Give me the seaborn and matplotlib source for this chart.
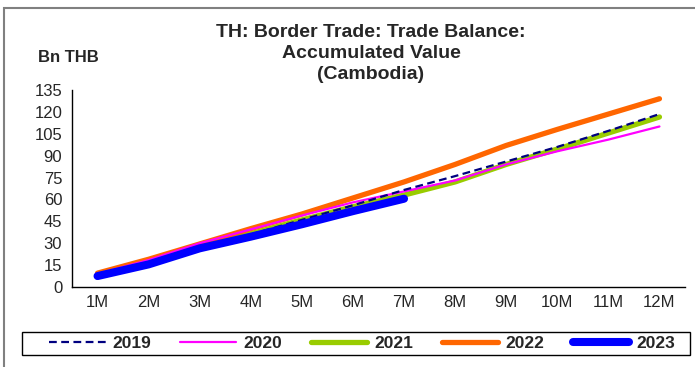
import matplotlib
matplotlib.use('Agg')
import matplotlib.pyplot as plt
import numpy as np
import pandas as pd
import seaborn as sns
from matplotlib.patches import Rectangle

sns.set_style('white')
plt.rcParams['font.family'] = ['Liberation Sans', 'DejaVu Sans']

# data (Bn THB, accumulated)
months = ['1M', '2M', '3M', '4M', '5M', '6M', '7M', '8M', '9M', '10M', '11M', '12M']
y2019 = [8, 17, 27, 36, 46, 56, 66.5, 76, 86, 96, 107, 118.5]
y2020 = [9, 18.5, 30, 39.5, 49, 58, 65.5, 73, 84, 93, 101, 110]
y2021 = [8, 17, 27.5, 36.5, 46, 55, 63, 72, 84, 94.5, 105.5, 116.5]
y2022 = [9.5, 19, 29.5, 40, 50, 61, 72, 84, 97, 108, 118.5, 129]
y2023 = [7.5, 15.5, 26.5, 34.5, 43, 52, 60.5]

series = {'2019': y2019, '2020': y2020, '2021': y2021, '2022': y2022, '2023': y2023}
rows = []
for year, vals in series.items():
    for i, v in enumerate(vals):
        rows.append({'year': year, 'pos': i + 1, 'value': v})
df = pd.DataFrame(rows)

# line styles
styles = {
    '2019': dict(color='#000080', lw=1.6, ls=(0, (3.5, 2)), z=5),
    '2020': dict(color='#FF00FF', lw=1.6, ls='-', z=4),
    '2021': dict(color='#99CC00', lw=3.8, ls='-', z=2),
    '2022': dict(color='#FF6600', lw=3.8, ls='-', z=3),
    '2023': dict(color='#0000FF', lw=5.8, ls='-', z=6),
}

fig = plt.figure(figsize=(6.95, 3.67), dpi=100)
ax = fig.add_axes([72 / 695, 80 / 367, 613 / 695, 197 / 367])

for year in series:
    st = styles[year]
    sns.lineplot(data=df[df['year'] == year], x='pos', y='value', ax=ax,
                 color=st['color'], linewidth=st['lw'], linestyle=st['ls'],
                 zorder=st['z'], label=year, legend=False,
                 solid_capstyle='round', dash_capstyle='butt')

ax.set_xlim(0.5, 12.5)
ax.set_ylim(0, 135)
ax.set_yticks(np.arange(0, 136, 15))
ax.set_xticks(np.arange(0.5, 12.6, 1))
ax.set_xticklabels([])
ax.set_xticks(np.arange(1, 13), minor=True)
ax.set_xticklabels(months, minor=True)
ax.tick_params(axis='x', which='major', direction='out', length=5, width=1, color='black')
ax.tick_params(axis='x', which='minor', length=0, pad=6, labelsize=12)
ax.tick_params(axis='y', direction='out', length=5, width=1, color='black', pad=2, labelsize=12)
ax.set_xlabel('')
ax.set_ylabel('')
for s in ['top', 'right']:
    ax.spines[s].set_visible(False)
for s in ['left', 'bottom']:
    ax.spines[s].set_color('black')
    ax.spines[s].set_linewidth(1)
ax.grid(False)

fig.text(371 / 695, 1 - 24 / 367, 'TH: Border Trade: Trade Balance:\nAccumulated Value\n(Cambodia)',
         ha='center', va='top', fontsize=14, fontweight='bold', linespacing=1.3)
fig.text(38 / 695, 1 - 57 / 367, 'Bn THB', ha='left', va='center', fontsize=12, fontweight='bold')

# outer frame and legend box
fig.patches.append(Rectangle((4 / 695, -0.1), 1.2, (367 - 8) / 367 + 0.1, transform=fig.transFigure,
                             fill=False, edgecolor='#808080', lw=1.5))
fig.patches.append(Rectangle((22 / 695, 12 / 367), 668 / 695, 23 / 367, transform=fig.transFigure,
                             fill=False, edgecolor='black', lw=1))

handles, labels = ax.get_legend_handles_labels()
fig.legend(handles, labels, loc='center', bbox_to_anchor=(362 / 695, 23.5 / 367), ncol=5,
           frameon=False, handlelength=3.25, handletextpad=0.4, columnspacing=1.65,
           prop={'weight': 'bold', 'size': 12.5})

fig.savefig('out.png', dpi=100)
